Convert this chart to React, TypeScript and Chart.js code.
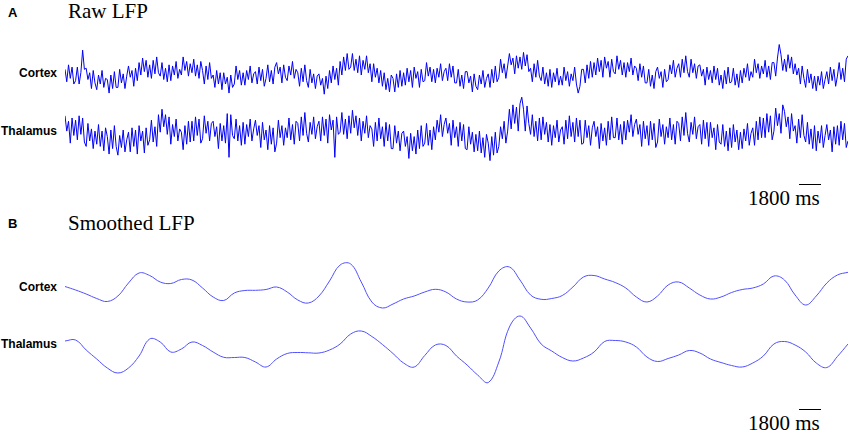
import React, { useEffect, useRef } from "react";
import { Chart, registerables } from "chart.js";

Chart.register(...registerables);

// Time base (seconds). The traces span ~74 s (scale bar = 1800 ms).
const DURATION_S = 74;
const RAW_DT_S = 1 / 6;
const SMOOTH_DT_S = 1;

const panelTitles = ["Raw LFP", "Smoothed LFP"];
const panelLetters = ["A", "B"];
const regionLabels = ["Cortex", "Thalamus"];
const scaleBarLabel = "1800 ms";

// Raw LFP, cortex (arbitrary units, positive up), 6 samples / s
const rawCortex = [
  5, -6, 9, -3, 7, -8, -5, 7, -8, 2, 22, 5, 6, -4, 2, -12, 4, -7,
  -13, 0, -8, 4, -11, -3, -4, -16, 0, -12, 3, -11, -11, 5, -7, 1, -12, -1,
  8, -2, 4, -10, 6, -5, 11, 0, 15, 3, 13, -2, 9, -3, 13, 1, 16, 2,
  -1, 11, -4, 6, -6, 9, -5, 8, 0, 12, -3, 5, 0, 16, 4, 12, -1, 10,
  2, 14, -1, 9, -3, 12, 4, -8, 8, -4, 11, -3, 0, -11, 4, -8, 2, -13,
  2, -8, -2, -16, 0, -11, -8, 8, -4, 4, -9, 2, -9, 4, -4, 8, -7, 1,
  3, -8, 7, -5, 5, -10, -3, 9, -6, 4, -8, 7, 11, 1, 7, -7, 9, -2,
  -5, 8, 0, 12, -3, 5, 2, -10, 6, -6, 9, -5, -11, 5, -7, 1, -12, -1,
  1, -9, -3, -17, -1, -12, 4, -7, 8, -4, 6, -9, 12, 0, 16, 4, 19, 5,
  7, 19, 4, 14, 2, 17, 0, 13, 5, 17, 2, 10, -6, 10, -2, 6, -7, 4,
  -10, 2, -13, -3, -15, 0, -3, -15, 1, -11, 4, -10, 2, -9, 6, -6, 4, -11,
  7, -3, 3, -11, 5, -6, -5, 11, -1, 7, -6, 5, -7, 6, -2, 10, -5, 3,
  6, -5, 10, -2, 8, -7, -7, 5, -10, 0, -12, 3, 3, -7, -1, -15, 1, -10,
  -13, 0, -8, 4, -11, -3, 1, -11, 5, -7, 8, -6, -2, 14, 2, 10, -3, 8,
  19, 9, 15, 1, 17, 6, 16, 5, 20, 8, 18, 3, 6, -6, 10, -2, 13, -1,
  -5, 7, -8, 2, -10, 5, -11, 2, -6, 6, -9, -1, -9, 7, -5, 3, -10, 1,
  -5, 7, -8, -16, -10, 5, 5, -7, 9, -3, 12, -2, 11, 0, 15, 3, 13, -2,
  16, 6, 12, -2, 14, 3, 1, 17, 5, 13, 0, 11, -2, 11, 3, 15, 0, 8,
  6, -5, 10, -2, 8, -7, -7, 5, -10, 0, -12, 3, 7, -3, 3, -11, 5, -6,
  -4, 9, 1, 13, -2, 6, 10, -2, 14, 2, 17, 3, -2, 14, 2, 10, -3, 8,
  9, -1, 5, -9, 7, -4, 4, -7, 8, -4, 6, -9, 0, -12, 4, -8, 7, -7,
  -6, 6, -9, 1, -11, 4, -7, 6, -2, 10, -5, 3, -2, 14, 2, 10, -3, 8,
  1, 13, -2, 8, -4, 11, 11, -1, 15, 27, 18, 4, 14, 3, 18, 6, 16, 1,
  10, 0, 6, -8, 8, -3, -11, 5, -7, 1, -12, -1, -14, -1, -9, 3, -12, -4,
  3, -8, 7, -5, 5, -10, -1, 11, -4, 6, -6, 14, 17,
];

// Raw LFP, thalamus, 6 samples / s
const rawThalamus = [
  13, -1, 8, -12, 11, -5, 9, -9, 13, -4, 11, -11, -15, 6, -10, 1, -17, -1,
  -13, 5, -15, -1, -19, 2, -6, -22, 0, -17, 4, -15, -23, -5, -16, 0, -20, -9,
  -2, -20, 2, -15, 0, -22, 4, -10, -1, -21, 2, -14, -9, 9, -11, 3, -15, 14,
  -2, 19, 3, 14, -4, 12, -13, 5, -6, 10, -10, 1, -2, -18, 4, -13, 8, -11,
  8, -10, 12, -5, 10, -12, -8, 13, -3, 8, -10, 6, 8, -6, 3, -17, 6, -10,
  4, -12, 15, -25, 14, -5, -8, 10, -10, 4, -14, 7, -13, 5, -6, 10, -10, 1,
  9, -5, 4, -16, 7, -9, 0, -18, 4, -13, 2, -20, -12, 9, -7, 4, -14, 2,
  -7, 11, -9, 5, -13, 8, 6, -10, 12, -5, 16, -3, -11, 7, -4, 12, -8, 3,
  8, -10, 12, -5, 10, -12, 14, 0, 9, -25, 12, -4, -2, 16, -4, 10, -8, 13,
  -3, 18, 2, 13, -5, 11, -10, 8, -3, 13, -7, 4, 1, -15, 7, -10, 11, -8,
  3, -15, 7, -10, 5, -17, -17, 4, -12, -1, -19, -3, -1, -15, -6, -26, -3, -19,
  -6, -22, 0, -17, 4, -15, -12, 6, -14, 0, -18, 3, -9, 9, -2, 14, -6, 5,
  11, -3, 6, -14, 9, -7, 3, -15, 7, -10, 5, -17, -18, 3, -13, -2, -20, -4,
  -19, -1, -21, -7, -25, -4, -12, -28, -6, -23, -2, -21, -15, 3, -8, 8, -12, -1,
  19, 1, 23, 6, 21, -1, 24, 30, 19, -1, 22, 6, -4, 14, -6, 8, -10, 11,
  -9, 12, -4, 7, -11, 5, -14, 4, -7, 9, -11, 0, 3, -13, 9, -8, 13, -6,
  7, -11, 11, -6, 9, -13, -12, 9, -7, 4, -14, 2, 8, -6, 3, -17, 6, -10,
  2, -14, 8, -9, 12, -7, -7, 11, -9, 5, -13, 8, -9, 9, -2, 14, -6, 5,
  10, -4, 5, -15, 8, -8, 4, -14, 8, -9, 6, -16, -11, 10, -6, 5, -13, 3,
  -7, 11, -9, 5, -13, 8, 6, -10, 12, -5, 16, -3, -11, 7, -4, 12, -8, 3,
  5, -13, 9, -8, 7, -15, 7, -7, 2, -18, 5, -11, -13, 5, -15, -1, -19, 2,
  -16, 5, -11, 0, -18, -2, -17, 1, -10, 6, -14, -3, 2, -14, 8, -9, 12, -7,
  11, -7, 15, -2, 13, -9, -1, 20, 4, 15, -3, 23, 17, 3, 12, -8, 15, -1,
  4, -12, 10, -7, 14, -5, -11, 7, -13, 1, -17, 4, -19, -1, -12, 4, -16, -5,
  5, -9, 0, -20, 3, -13, 4, -14, 8, -9, 6, -16, -10,
];

// Smoothed LFP, 1 sample / s
const smoothCortex = [
  1.5, -2, -6, -10.5, -13.5, -8, 5, 15, 12.5, 6, 4.5, 8.5, 8, 0, -9, -12.5, -5, -2.5, -2.3, -1.5,
  1, -4, -12, -15, -8, 7, 23, 24, 6, -14, -20, -16, -11, -8, -4, -1.3, -4, -11, -14, -12,
  0, 17, 21, 8, -7, -11.3, -10.5, -7.5, 1, 11, 12.5, 9, 5.5, 0, -9, -14, -8, 3, 6, 0,
  -7, -11, -9, -4.5, -1.5, 0, 4, 12, 8, -7, -17, -8, 5, 13, 15.7,
];

const smoothThalamus = [
  9, 10, 0, -9, -18, -23, -18, -6, 11, 8, -2, 1, 8, 4.5, -2, -7.3, -7.5, -7.5, -12, -17,
  -9, -3.5, -2.5, -2.8, -3, 0, 6, 16, 19, 13.5, 5.5, -3.5, -13, -17, -5.5, 5, 4.5, -6, -15, -25,
  -32.5, -12, 23, 34, 22, 6, -1, -7.5, -11, -8, -2, 8.5, 9.5, 8, 3, -7, -11.5, -8.5, -5, -0.5,
  -3, -9, -12.5, -15.5, -17, -13, -6, 6, 8.5, 5, -2, -13, -17.5, -6.5, 6,
];

type TraceProps = {
  values: number[];
  dt: number;
  left: number;
  top: number;
  width: number;
  height: number;
  yRange: number;
  color: string;
  lineWidth: number;
  tension: number;
};

function Trace({ values, dt, left, top, width, height, yRange, color, lineWidth, tension }: TraceProps) {
  const ref = useRef<HTMLCanvasElement>(null);
  useEffect(() => {
    if (!ref.current) return;
    const chart = new Chart(ref.current, {
      type: "line",
      data: {
        datasets: [
          {
            data: values.map((v, i) => ({ x: i * dt, y: v })),
            borderColor: color,
            borderWidth: lineWidth,
            pointRadius: 0,
            tension,
            fill: false,
            clip: false as any,
          },
        ],
      },
      options: {
        animation: false,
        responsive: false,
        events: [],
        layout: { padding: 0 },
        plugins: {
          legend: { display: false },
          tooltip: { enabled: false },
          title: { display: false },
        },
        scales: {
          x: { type: "linear", display: false, min: 0, max: DURATION_S },
          y: { type: "linear", display: false, min: -yRange, max: yRange },
        },
      },
    });
    return () => chart.destroy();
  }, []);
  return (
    <canvas
      ref={ref}
      width={width}
      height={height}
      style={{ position: "absolute", left, top, width, height }}
    />
  );
}

const serif = '"Liberation Serif", "Times New Roman", Times, serif';
const sans = '"Liberation Sans", Arial, Helvetica, sans-serif';

function Text({ children, left, top, size, font, bold, width, align }: any) {
  return (
    <div
      style={{
        position: "absolute",
        left,
        top,
        width,
        textAlign: align || "left",
        fontFamily: font,
        fontSize: size,
        lineHeight: `${size}px`,
        fontWeight: bold ? 700 : 400,
        color: "#000",
        whiteSpace: "nowrap",
      }}
    >
      {children}
    </div>
  );
}

export default function App() {
  const traceLeft = 65;
  const traceWidth = 783;
  const rawColor = "#0000f5";
  const smoothColor = "#5050ff";
  return (
    <div
      style={{
        position: "fixed",
        left: 0,
        top: 0,
        width: 851,
        height: 433,
        background: "#fff",
        overflow: "hidden",
      }}
    >
      {/* Panel A */}
      <Text left={8} top={6} size={13} font={sans} bold>{panelLetters[0]}</Text>
      <Text left={68} top={1} size={21} font={serif}>{panelTitles[0]}</Text>
      <Text left={0} width={57} align="right" top={67} size={12} font={sans} bold>{regionLabels[0]}</Text>
      <Text left={0} width={57} align="right" top={125} size={12} font={sans} bold>{regionLabels[1]}</Text>
      <Trace values={rawCortex} dt={RAW_DT_S} left={traceLeft} top={40} width={traceWidth} height={70} yRange={31} color={rawColor} lineWidth={1} tension={0} />
      <Trace values={rawThalamus} dt={RAW_DT_S} left={traceLeft} top={95} width={traceWidth} height={70} yRange={32} color={rawColor} lineWidth={1} tension={0} />
      <Text left={748} top={188.4} size={21} font={serif}>{scaleBarLabel}</Text>
      <div style={{ position: "absolute", left: 799, top: 184, width: 22, height: 1, background: "#000" }} />

      {/* Panel B */}
      <Text left={8} top={217} size={13} font={sans} bold>{panelLetters[1]}</Text>
      <Text left={68} top={213.4} size={21} font={serif}>{panelTitles[1]}</Text>
      <Text left={0} width={57} align="right" top={281} size={12} font={sans} bold>{regionLabels[0]}</Text>
      <Text left={0} width={57} align="right" top={338} size={12} font={sans} bold>{regionLabels[1]}</Text>
      <Trace values={smoothCortex} dt={SMOOTH_DT_S} left={traceLeft} top={250} width={traceWidth} height={76} yRange={38} color={smoothColor} lineWidth={1} tension={0.4} />
      <Trace values={smoothThalamus} dt={SMOOTH_DT_S} left={traceLeft} top={305} width={traceWidth} height={90} yRange={45} color={smoothColor} lineWidth={1} tension={0.4} />
      <Text left={748} top={413.4} size={21} font={serif}>{scaleBarLabel}</Text>
      <div style={{ position: "absolute", left: 799, top: 409, width: 22, height: 1, background: "#000" }} />
    </div>
  );
}
